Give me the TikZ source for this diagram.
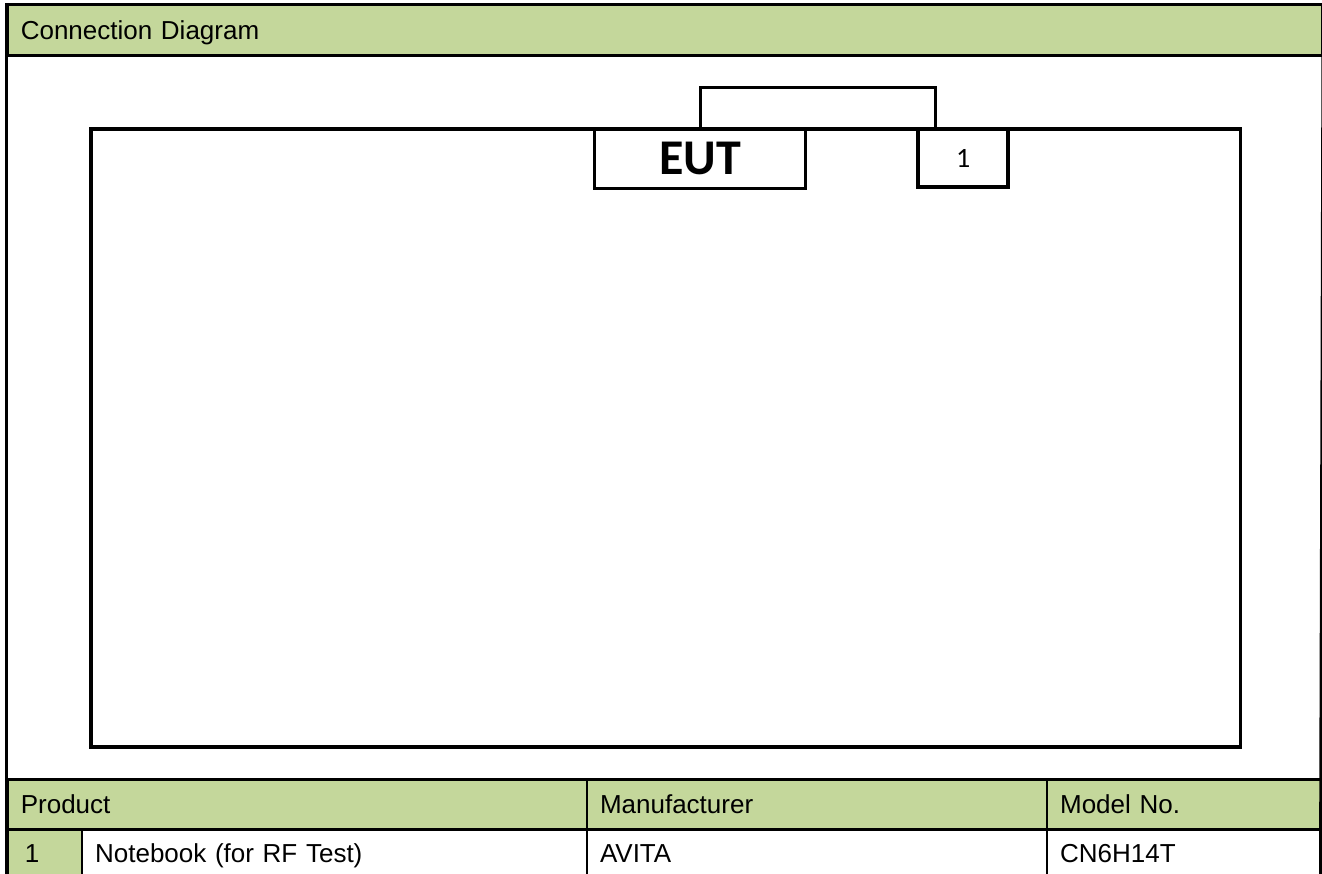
\documentclass[tikz,border=0pt]{standalone}
\usepackage{fontspec}
\setmainfont{Liberation Sans}
\newfontfamily\eutfont{Carlito}
\usetikzlibrary{positioning}
\usepackage{xcolor}
\definecolor{hdrgreen}{HTML}{C4D79B}

\begin{document}
\begin{tikzpicture}[
  x=1pt, y=-1pt,
  tab-cell/.style={draw, line width=2.6pt, anchor=north west, inner xsep=13pt, inner ysep=0pt, align=left, text height=20pt, text depth=1.4pt, font=\fontsize{26}{31}\selectfont},
  hdr-cell/.style={tab-cell, fill=hdrgreen},
  eq-box/.style={draw, anchor=north west, inner sep=0pt, font=\eutfont}
]
\useasboundingbox (0,0) rectangle (1322,874);

\node[hdr-cell, text width=1288, minimum height=51] (hdr) at (6.5,3.5) {Connection Diagram};

\node[draw, line width=3.5pt, anchor=north west, minimum width=1149.5, minimum height=617.5] (room) at (89,127.5) {};

\node[eq-box, line width=3pt, minimum width=211, minimum height=59.2, font=\eutfont\bfseries\fontsize{50}{60}\selectfont] (eut) at (593.3,127.5) {EUT};
\node[eq-box, line width=4pt, minimum width=90, minimum height=57.8, font=\eutfont\fontsize{28}{34}\selectfont] (dev) at (916.3,127.5) {1};

\draw[line width=3pt] (eut.north) -- ++(0,-40) -| ([xshift=-28pt]dev.north);

\node[hdr-cell, text width=553.2, minimum height=50] (prod) at (6.5,778) {Product};
\node[hdr-cell, text width=434.1, minimum height=50] (mfr) at (585.7,778) {Manufacturer};
\node[hdr-cell, text width=248.7, minimum height=50] (mdl) at (1045.8,778) {Model No.};

\node[hdr-cell, minimum height=48, inner xsep=17pt, text width=40.3] (idx) at (6.5,828) {1};
\node[tab-cell, text width=478.9, minimum height=48] (name) at (80.8,828) {Notebook (for RF Test)};
\node[tab-cell, text width=434.1, minimum height=48] (maker) at (585.7,828) {AVITA};
\node[tab-cell, text width=248.7, minimum height=48] (model) at (1045.8,828) {CN6H14T};

\draw[line width=3.5pt] (hdr.north west) -- (6.5,880);
\draw[line width=3pt] (hdr.north east) -- (1320.5,880);
\end{tikzpicture}
\end{document}
